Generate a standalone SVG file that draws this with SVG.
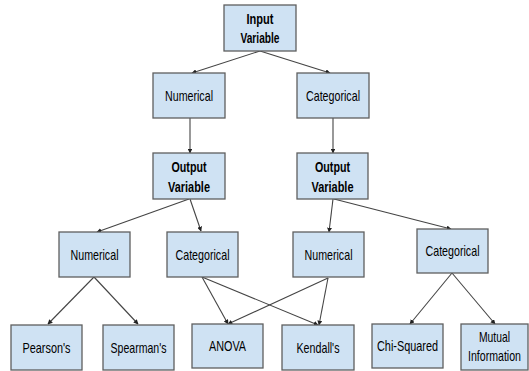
<svg xmlns="http://www.w3.org/2000/svg" width="529" height="371" viewBox="0 0 529 371">
<style>
.box{fill:#cfe2f3;stroke:#5f5f5f;stroke-width:1.3}
.t{font-family:"Liberation Sans",Arial,sans-serif;font-size:15px;fill:#000;text-anchor:middle}
.b{font-weight:bold}
.c{stroke:#444;stroke-width:1.1;fill:none;marker-end:url(#ah)}
</style>
<defs>
<marker id="ah" viewBox="0 0 8 8" refX="7" refY="4" markerWidth="4.5" markerHeight="4.5" orient="auto" markerUnits="strokeWidth">
<path d="M0,0 L8,4 L0,8 z" fill="#222"/>
</marker>
</defs>
<rect width="529" height="371" fill="#fff"/>
<g id="connectors">
<line class="c" x1="260" y1="51" x2="192" y2="73"/>
<line class="c" x1="260" y1="51" x2="330" y2="73"/>
<line class="c" x1="190" y1="118" x2="190" y2="153"/>
<line class="c" x1="333" y1="118" x2="333" y2="153"/>
<line class="c" x1="189" y1="199" x2="97" y2="232"/>
<line class="c" x1="190" y1="199" x2="201" y2="231"/>
<line class="c" x1="333" y1="199" x2="329" y2="232"/>
<line class="c" x1="334" y1="199" x2="451" y2="229"/>
<line class="c" x1="94" y1="277" x2="48" y2="324"/>
<line class="c" x1="94" y1="277" x2="138" y2="324"/>
<line class="c" x1="202" y1="277" x2="228" y2="324"/>
<line class="c" x1="202" y1="277" x2="318" y2="325"/>
<line class="c" x1="328" y1="278" x2="228" y2="324"/>
<line class="c" x1="328" y1="278" x2="319" y2="325"/>
<line class="c" x1="452" y1="273" x2="410" y2="324"/>
<line class="c" x1="452" y1="273" x2="495" y2="324"/>
</g>
<g id="input">
<rect class="box" x="224" y="5" width="72" height="46"/>
<text class="t b" x="260" y="24" textLength="27" lengthAdjust="spacingAndGlyphs">Input</text>
<text class="t b" x="260" y="43" textLength="39" lengthAdjust="spacingAndGlyphs">Variable</text>
</g>
<g id="num1">
<rect class="box" x="153" y="73" width="72" height="45"/>
<text class="t" x="189" y="101" textLength="48" lengthAdjust="spacingAndGlyphs">Numerical</text>
</g>
<g id="cat1">
<rect class="box" x="297" y="73" width="72" height="45"/>
<text class="t" x="333" y="101" textLength="54" lengthAdjust="spacingAndGlyphs">Categorical</text>
</g>
<g id="out1">
<rect class="box" x="153" y="153" width="72" height="46"/>
<text class="t b" x="189" y="172" textLength="35" lengthAdjust="spacingAndGlyphs">Output</text>
<text class="t b" x="189" y="192" textLength="42" lengthAdjust="spacingAndGlyphs">Variable</text>
</g>
<g id="out2">
<rect class="box" x="297" y="153" width="71" height="46"/>
<text class="t b" x="332.5" y="172" textLength="35" lengthAdjust="spacingAndGlyphs">Output</text>
<text class="t b" x="332.5" y="192" textLength="42" lengthAdjust="spacingAndGlyphs">Variable</text>
</g>
<g id="num2">
<rect class="box" x="59" y="232" width="71" height="45"/>
<text class="t" x="94.5" y="260" textLength="48" lengthAdjust="spacingAndGlyphs">Numerical</text>
</g>
<g id="cat2">
<rect class="box" x="167" y="232" width="71" height="45"/>
<text class="t" x="202.5" y="260" textLength="54" lengthAdjust="spacingAndGlyphs">Categorical</text>
</g>
<g id="num3">
<rect class="box" x="293" y="232" width="71" height="45"/>
<text class="t" x="328.5" y="260" textLength="48" lengthAdjust="spacingAndGlyphs">Numerical</text>
</g>
<g id="cat3">
<rect class="box" x="417" y="229" width="71" height="44"/>
<text class="t" x="452.5" y="256" textLength="54" lengthAdjust="spacingAndGlyphs">Categorical</text>
</g>
<g id="pearson">
<rect class="box" x="11" y="325" width="71" height="45"/>
<text class="t" x="46.5" y="353" textLength="48" lengthAdjust="spacingAndGlyphs">Pearson's</text>
</g>
<g id="spearman">
<rect class="box" x="103" y="325" width="71" height="45"/>
<text class="t" x="138.5" y="353" textLength="56" lengthAdjust="spacingAndGlyphs">Spearman's</text>
</g>
<g id="anova">
<rect class="box" x="192" y="324" width="71" height="44"/>
<text class="t" x="227.5" y="351" textLength="37" lengthAdjust="spacingAndGlyphs">ANOVA</text>
</g>
<g id="kendall">
<rect class="box" x="282" y="325" width="72" height="45"/>
<text class="t" x="318" y="353" textLength="43" lengthAdjust="spacingAndGlyphs">Kendall's</text>
</g>
<g id="chi">
<rect class="box" x="372" y="324" width="71" height="44"/>
<text class="t" x="407.5" y="351" textLength="61" lengthAdjust="spacingAndGlyphs">Chi-Squared</text>
</g>
<g id="mutual">
<rect class="box" x="461" y="324" width="67" height="46"/>
<text class="t" x="494.5" y="342" textLength="31" lengthAdjust="spacingAndGlyphs">Mutual</text>
<text class="t" x="494.5" y="361" textLength="53" lengthAdjust="spacingAndGlyphs">Information</text>
</g>
</svg>
